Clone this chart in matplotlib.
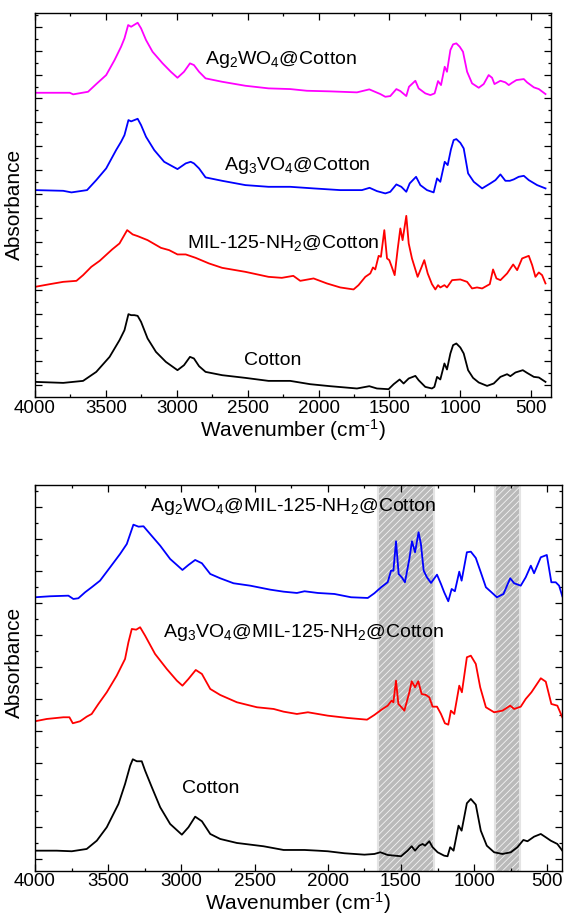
import numpy as np
import matplotlib
matplotlib.use('Agg')
import matplotlib.pyplot as plt
from matplotlib.ticker import MultipleLocator, FixedLocator

plt.rcParams['font.family'] = ['Liberation Sans', 'DejaVu Sans']
plt.rcParams['mathtext.fontset'] = 'custom'
plt.rcParams['mathtext.rm'] = 'Liberation Sans'
plt.rcParams['mathtext.it'] = 'Liberation Sans:italic'
plt.rcParams['mathtext.bf'] = 'Liberation Sans:bold'
plt.rcParams['hatch.linewidth'] = 0.6

# ---------------- top panel data (arbitrary absorbance, stacked) ----------------
wn_ag2wo4 = [4000, 3755, 3731, 3626, 3568, 3498, 3439, 3393, 3369, 3343,
             3322, 3299, 3276, 3252, 3217, 3171, 3100, 3042, 2995, 2949,
             2907, 2879, 2843, 2797, 2680, 2516, 2353, 2200, 2082, 1918,
             1729, 1642, 1564, 1529, 1494, 1451, 1423, 1381, 1362, 1317,
             1294, 1247, 1211, 1181, 1157, 1136, 1110, 1094, 1070, 1051,
             1028, 1004, 981, 952, 917, 870, 835, 800, 776, 759,
             717, 682, 658, 635, 604, 552, 529, 481, 446, 399]
ab_ag2wo4 = [304, 304, 302.4, 305, 312.7, 321.7, 336.7, 350, 358.4, 371.7,
             370, 372, 374, 368.4, 356.7, 345, 333.4, 325, 319, 325,
             333.4, 331.7, 325, 318.4, 315, 311, 308.4, 307.7, 306, 305.4,
             304.4, 307.4, 302.7, 300, 300.7, 307.7, 305.7, 300.7, 310, 316,
             308.4, 303.4, 301.7, 303.4, 315.7, 311.7, 330, 325, 346.7, 352.4,
             353.4, 350, 345, 325, 313.4, 309, 312.7, 321.7, 319, 312.7,
             316, 314.4, 311.7, 314, 316.7, 317.7, 314.4, 309.4, 307.7, 302.7]

wn_ag3vo4 = [4000, 3801, 3743, 3633, 3568, 3498, 3428, 3393, 3369, 3341,
             3322, 3299, 3276, 3252, 3217, 3159, 3089, 2995, 2937, 2902,
             2879, 2843, 2797, 2680, 2516, 2353, 2200, 2035, 1847, 1694,
             1640, 1588, 1529, 1494, 1451, 1416, 1381, 1357, 1312, 1282,
             1235, 1188, 1164, 1141, 1110, 1089, 1066, 1047, 1028, 1000,
             976, 945, 905, 846, 788, 752, 717, 682, 651, 623,
             588, 552, 517, 458, 399]
ab_ag3vo4 = [206.7, 206, 204.4, 206.7, 216.7, 228.4, 246.7, 255, 261.7, 276.7,
             275.4, 276.7, 278, 271.7, 260, 246.7, 235, 227.7, 233.4, 235,
             233.4, 228.4, 219.4, 216, 211.7, 210, 210, 208.4, 206.7, 206.7,
             209, 205.7, 203.4, 205, 212.4, 210, 205, 213.4, 220, 211.7,
             206.7, 204.4, 218.4, 215, 235, 231.7, 247.4, 256.7, 257.7, 254,
             248.4, 223.4, 215, 208.4, 213.4, 216.7, 222.4, 216, 216, 217.4,
             220, 221, 216.7, 211.7, 208.4]

wn_mil = [4000, 3895, 3801, 3708, 3661, 3603, 3544, 3456, 3404, 3350,
          3311, 3276, 3206, 3112, 3054, 2995, 2937, 2867, 2773, 2680,
          2516, 2353, 2259, 2178, 2129, 2035, 1941, 1847, 1753, 1718,
          1670, 1635, 1616, 1600, 1576, 1560, 1536, 1517, 1501, 1482,
          1463, 1442, 1423, 1407, 1381, 1364, 1341, 1301, 1277, 1254,
          1230, 1200, 1176, 1157, 1141, 1112, 1094, 1058, 1000, 952,
          917, 882, 846, 792, 769, 745, 717, 670, 627, 599,
          564, 517, 493, 470, 446, 423, 399]
ab_mil = [110, 112.7, 115, 116, 121.7, 130, 136, 147.4, 153.4, 166.7,
          162.4, 160.7, 156.7, 149, 146.7, 142.4, 142.4, 139, 133.4, 129,
          125, 120, 119, 121, 116, 118.4, 113.4, 109.4, 107.4, 111.7,
          120, 123.4, 129.4, 127.4, 141, 140, 166.7, 138.4, 136.7, 129.4,
          121.7, 147.4, 168.4, 156.7, 181, 153.4, 138.4, 120, 128.4, 136.7,
          123.4, 112.7, 107.4, 111.7, 109.4, 111.7, 109.4, 116.7, 117.4, 115,
          108.4, 109.4, 108.4, 112.7, 127.4, 118.4, 116.7, 123.4, 132.4, 126.7,
          138.4, 141, 131.7, 120, 124.4, 121.7, 113.4]

wn_cot1 = [4000, 3801, 3661, 3568, 3474, 3404, 3369, 3341, 3322, 3299,
           3276, 3252, 3206, 3147, 3077, 2995, 2949, 2907, 2879, 2843,
           2797, 2680, 2516, 2353, 2200, 2059, 1918, 1729, 1642, 1588,
           1506, 1470, 1428, 1400, 1364, 1317, 1294, 1247, 1200, 1183,
           1164, 1141, 1112, 1094, 1070, 1051, 1028, 1000, 976, 945,
           910, 870, 811, 764, 717, 670, 647, 611, 559, 529,
           481, 446, 399]
ab_cot1 = [15, 14, 16, 25, 40, 56.7, 66.7, 82.7, 81.7, 81.7,
           81, 75, 58.4, 45, 35, 26.7, 31.7, 40, 38.4, 30.7,
           25, 21.7, 19, 16, 16, 12.7, 10.7, 8.4, 10.7, 8.4,
           7.7, 12.7, 17.4, 13.4, 18.4, 21, 16.7, 10, 8.4, 10,
           20, 17.4, 33.4, 27.4, 43.4, 51.7, 53.4, 49.4, 43.4, 26.7,
           19, 14.4, 11, 13.4, 20, 22.7, 20.7, 24.4, 26.7, 24,
           20, 19.4, 15]

# ---------------- bottom panel data ----------------
wn_w_mil = [4000, 3897, 3772, 3738, 3704, 3658, 3613, 3556, 3487, 3419,
            3373, 3328, 3293, 3259, 3214, 3145, 3077, 3031, 2993, 2952,
            2906, 2860, 2803, 2735, 2644, 2530, 2393, 2302, 2211, 2159,
            2068, 1955, 1841, 1727, 1682, 1636, 1591, 1568, 1552, 1534,
            1516, 1495, 1473, 1443, 1425, 1404, 1380, 1364, 1345, 1323,
            1295, 1254, 1227, 1205, 1177, 1154, 1132, 1102, 1086, 1050,
            1023, 989, 955, 920, 882, 845, 800, 754, 727, 682,
            648, 613, 591, 545, 504, 473, 443, 420, 398]
ab_w_mil = [273.4, 274.4, 275, 271.7, 272.4, 278.4, 283.4, 290, 303.4, 316.7,
            326.7, 346, 344, 344.4, 336.7, 325, 311.7, 305.7, 300.7, 305.7,
            310.7, 307.4, 296.7, 292.4, 287.4, 285, 281, 279, 277.7, 279.4,
            277.7, 276.7, 273.4, 272.7, 277.4, 283.4, 288.4, 300, 300, 329.4,
            296.7, 293.4, 288.4, 311.7, 329.4, 318.4, 338.4, 326.7, 300, 293.4,
            287.7, 296, 286.7, 278.4, 269.4, 281.7, 279.4, 299, 290, 318.4,
            319, 312.7, 298.4, 283.4, 278.4, 273.4, 276.7, 292.4, 287.4, 285,
            293.4, 305, 297.4, 313.4, 315.7, 288.4, 288.4, 285, 274.4]

wn_v_mil = [4000, 3920, 3806, 3765, 3742, 3692, 3647, 3613, 3567, 3510,
            3442, 3385, 3362, 3339, 3309, 3282, 3248, 3180, 3100, 3031,
            2993, 2952, 2902, 2860, 2803, 2735, 2621, 2484, 2370, 2302,
            2211, 2136, 2000, 1864, 1732, 1682, 1636, 1591, 1564, 1552,
            1534, 1518, 1500, 1477, 1443, 1427, 1404, 1382, 1359, 1330,
            1307, 1284, 1254, 1227, 1200, 1177, 1159, 1136, 1102, 1084,
            1050, 1023, 989, 959, 920, 864, 807, 754, 727, 682,
            648, 609, 545, 511, 473, 432, 398]
ab_v_mil = [149.4, 151.7, 153.4, 153.4, 147.4, 149.4, 154, 156.7, 166.7, 178.4,
            195, 211.7, 228.4, 241.7, 241, 243.4, 235, 216.7, 201.7, 190,
            185, 191.7, 200.7, 196.7, 181.7, 175.7, 168.4, 163.4, 161.7, 159,
            156.7, 158.4, 155, 152.7, 151, 155.7, 160.7, 165, 170, 168.4,
            190, 166.7, 164, 160, 178.4, 189.4, 183.4, 189.4, 176.7, 175.7,
            173.4, 164, 164, 156.7, 147.4, 146, 160, 156.7, 185, 178.4,
            213.4, 215, 206.7, 183.4, 163.4, 158.4, 160, 165, 161.7, 164,
            171.7, 178.4, 192.4, 189, 166.7, 165, 153.4]

wn_cot2 = [4000, 3852, 3749, 3647, 3578, 3510, 3430, 3385, 3350, 3332,
           3305, 3271, 3248, 3202, 3145, 3077, 2997, 2952, 2906, 2860,
           2803, 2735, 2621, 2439, 2302, 2159, 2068, 2000, 1886, 1750,
           1682, 1641, 1591, 1500, 1455, 1427, 1404, 1375, 1352, 1336,
           1307, 1284, 1250, 1205, 1182, 1164, 1141, 1107, 1086, 1050,
           1023, 989, 955, 914, 864, 807, 750, 705, 664, 636,
           591, 545, 511, 477, 432, 398]
ab_cot2 = [20, 20, 19.4, 21.7, 30, 43.4, 66.7, 86.7, 105, 111.4,
           109.4, 109.4, 100, 83.4, 63.4, 46.7, 36, 43.4, 54, 49.4,
           36.7, 31.7, 27.7, 24.4, 20.7, 20.7, 20, 19.4, 17.4, 16,
           16.7, 18.4, 15.7, 14.4, 20, 24.4, 20, 25, 26.7, 25,
           29.4, 23.4, 18.4, 15, 14.4, 23.4, 20, 45, 40, 67.4,
           71.7, 66, 40, 25, 18.4, 16.7, 18.4, 23.4, 30.7, 29.4,
           34, 36.7, 33.4, 30, 26.7, 20]

# shaded regions in the bottom panel (cm-1)
shade_regions = [(1660, 1275), (858, 686)]

top_labels = [r'Ag$_2$WO$_4$@Cotton', r'Ag$_3$VO$_4$@Cotton',
              r'MIL-125-NH$_2$@Cotton', 'Cotton']
top_label_pos = [(2263, 332.7), (2153, 227), (2251, 148.7), (2321, 32)]
bot_labels = [r'Ag$_2$WO$_4$@MIL-125-NH$_2$@Cotton',
              r'Ag$_3$VO$_4$@MIL-125-NH$_2$@Cotton', 'Cotton']
bot_label_pos = [(2240, 359.4), (2168, 233.4), (2802, 77.4)]

fig = plt.figure(figsize=(5.64, 9.23), dpi=100)
ax1 = fig.add_axes([0.0621, 0.5700, 0.9149, 0.4162])
ax2 = fig.add_axes([0.0621, 0.0567, 0.9344, 0.4182])

lw = 1.3
ax1.plot(wn_ag2wo4, ab_ag2wo4, color='#ff00ff', lw=lw)
ax1.plot(wn_ag3vo4, ab_ag3vo4, color='#0000ff', lw=lw)
ax1.plot(wn_mil, ab_mil, color='#ff0000', lw=lw)
ax1.plot(wn_cot1, ab_cot1, color='black', lw=lw)

for lo, hi in shade_regions:
    ax2.axvspan(lo, hi, facecolor='#bababa', edgecolor='none', zorder=0)
    ax2.axvspan(lo, hi, facecolor='none', edgecolor='#f4f4f4', hatch='/////',
                linewidth=0, zorder=0.5)
    ax2.axvline(lo, color='#e4e4e4', lw=1.5, zorder=0.6)
    ax2.axvline(hi, color='#e4e4e4', lw=1.5, zorder=0.6)

ax2.plot(wn_w_mil, ab_w_mil, color='#0000ff', lw=lw)
ax2.plot(wn_v_mil, ab_v_mil, color='#ff0000', lw=lw)
ax2.plot(wn_cot2, ab_cot2, color='black', lw=lw)

for txt, (x, y) in zip(top_labels, top_label_pos):
    ax1.text(x, y, txt, fontsize=14, ha='center', va='baseline')
for txt, (x, y) in zip(bot_labels, bot_label_pos):
    ax2.text(x, y, txt, fontsize=14, ha='center', va='baseline')

ax1.set_xlim(4000, 360)
ax1.set_ylim(0, 384)
ax2.set_xlim(4000, 400)
ax2.set_ylim(0, 386)

ax1.yaxis.set_major_locator(FixedLocator(np.arange(11.5, 384, 23.9)))
ax1.yaxis.set_minor_locator(FixedLocator(np.arange(23.45, 384, 23.9)))
ax2.yaxis.set_major_locator(FixedLocator(np.arange(12, 386, 32)))
ax2.yaxis.set_minor_locator(FixedLocator(np.arange(28, 386, 32)))

for ax in (ax1, ax2):
    ax.xaxis.set_major_locator(MultipleLocator(500))
    ax.xaxis.set_minor_locator(MultipleLocator(250))
    ax.tick_params(which='both', direction='in', top=True, right=True,
                   labelleft=False, width=0.9)
    ax.tick_params(which='major', length=5, labelsize=13.5, pad=2)
    ax.tick_params(which='minor', length=2.5)
    for s in ax.spines.values():
        s.set_linewidth(1.0)
    ax.set_xlabel(r'Wavenumber (cm$^{\text{-}1}$)', fontsize=15, labelpad=0)
    ax.set_ylabel('Absorbance', fontsize=15)

ax1.yaxis.set_label_coords(-0.021, 0.5)
ax2.yaxis.set_label_coords(-0.021, 0.54)

fig.savefig('out.png', dpi=100)
